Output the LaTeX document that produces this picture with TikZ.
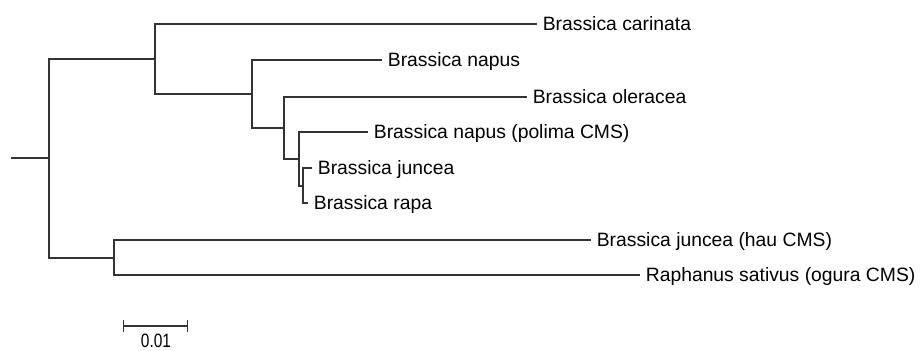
\documentclass[tikz,border=0pt]{standalone}
\usepackage{fontspec}
\setmainfont{Liberation Sans}
\usetikzlibrary{arrows.meta}

\begin{document}
\begin{tikzpicture}[x=0.02cm, y=-0.02cm]

\tikzstyle{taxon} = [anchor=west, inner xsep=3.2pt, inner ysep=0pt, text height=7.9pt, text depth=0pt, font=\fontsize{11}{13}\selectfont]
\tikzstyle{branch} = [line width=0.8pt, black!80]

\fill[white] (0,0) rectangle (921,351);

\node[taxon] (car) at (537,24) {Brassica carinata};
\node[taxon] (nap) at (382,60) {Brassica napus};
\node[taxon] (ole) at (527,97) {Brassica oleracea};
\node[taxon] (pol) at (368,132) {Brassica napus (polima CMS)};
\node[taxon] (jun) at (312,168) {Brassica juncea};
\node[taxon] (rap) at (308,203) {Brassica rapa};
\node[taxon] (hau) at (591,240) {Brassica juncea (hau CMS)};
\node[taxon] (ogu) at (640,275) {Raphanus sativus (ogura CMS)};

\coordinate (r) at (11,158);
\coordinate (n1) at (49,158);
\coordinate (n2) at (155,59);
\coordinate (n3) at (252,94);
\coordinate (n4) at (284,128);
\coordinate (n5) at (299,159);
\coordinate (n6) at (303,186);
\coordinate (n7) at (114,258);

\draw[branch] (r) -- (n1);
\draw[branch] (n2) -| (n1) |- (n7);
\draw[branch] (car.west) -| (n2) |- (n3);
\draw[branch] (nap.west) -| (n3) |- (n4);
\draw[branch] (ole.west) -| (n4) |- (n5);
\draw[branch] (pol.west) -| (n5) |- (n6);
\draw[branch] (jun.west) -| (n6) |- (rap.west);
\draw[branch] (hau.west) -| (n7) |- (ogu.west);

% scale bar
\coordinate (s1) at (123,326);
\coordinate (s2) at (188,326);
\draw[branch, {Bar[width=0.24cm]}-{Bar[width=0.24cm]}] (s1) -- (s2);
\node[font=\fontsize{11}{13}\selectfont, inner sep=0pt, xscale=0.8, transform shape] (sc) at (156,341) {0.01};

\end{tikzpicture}
\end{document}
